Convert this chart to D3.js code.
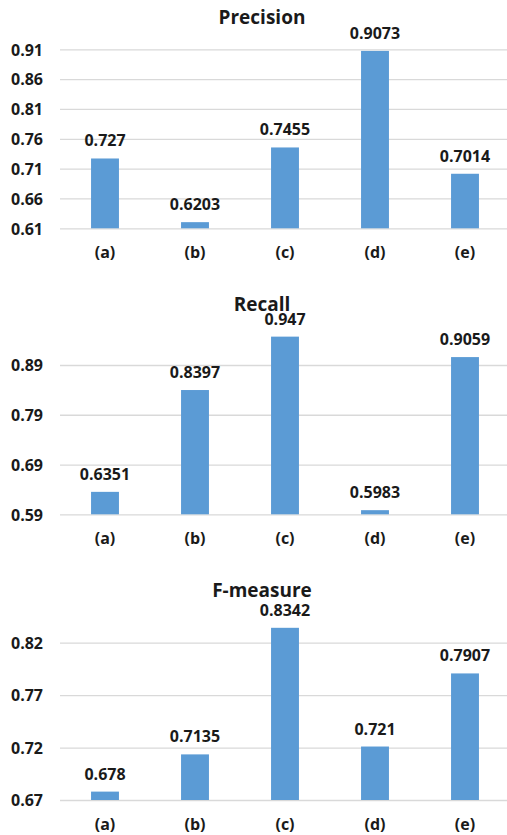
<!DOCTYPE html>
<html>
<head>
<meta charset="utf-8">
<script src="https://cdn.jsdelivr.net/npm/d3@7"></script>
<style>
  html, body { margin: 0; padding: 0; background: #fff; }
  svg { display: block; }
  text { font-family: "Open Sans", "Noto Sans", sans-serif; font-weight: 700; fill: #1a1a1a; }
</style>
</head>
<body>
<svg id="chart" width="507" height="835"></svg>
<script>
// Methods compared
const categories = ["(a)", "(b)", "(c)", "(d)", "(e)"];

// Scores per method
const precision = [0.727, 0.6203, 0.7455, 0.9073, 0.7014];
const recall    = [0.6351, 0.8397, 0.947, 0.5983, 0.9059];
const fmeasure  = [0.678, 0.7135, 0.8342, 0.721, 0.7907];

// Axis ticks for each panel
const precisionTicks = [0.61, 0.66, 0.71, 0.76, 0.81, 0.86, 0.91];
const recallTicks    = [0.59, 0.69, 0.79, 0.89];
const fmeasureTicks  = [0.67, 0.72, 0.77, 0.82];

const titles = ["Precision", "Recall", "F-measure"];

// Panel layout: vertical pixel span of the tick range and title baseline
const panels = [
  { title: titles[0], values: precision, ticks: precisionTicks, bottom: 228.3, top: 49.3,  titleY: 24 },
  { title: titles[1], values: recall,    ticks: recallTicks,    bottom: 514.3, top: 365,   titleY: 311 },
  { title: titles[2], values: fmeasure,  ticks: fmeasureTicks,  bottom: 800,   top: 642.7, titleY: 596.7 }
];

const svg = d3.select("#chart");
const plotLeft = 60, plotRight = 510;

const x = d3.scaleBand().domain(categories).range([plotLeft, plotRight]);
const barW = x.bandwidth() * 0.31;

panels.forEach(p => {
  const g = svg.append("g");
  const y = d3.scaleLinear()
    .domain([p.ticks[0], p.ticks[p.ticks.length - 1]])
    .range([p.bottom, p.top]);

  // Gridlines
  g.append("g")
    .attr("transform", `translate(${plotLeft},0)`)
    .call(d3.axisRight(y).tickValues(p.ticks).tickSize(plotRight - plotLeft).tickFormat(""))
    .call(s => s.select(".domain").remove())
    .call(s => s.selectAll(".tick line").attr("stroke", "#d9d9d9").attr("stroke-width", 1.3));

  // Y tick labels
  g.append("g")
    .attr("transform", `translate(43,0)`)
    .call(d3.axisLeft(y).tickValues(p.ticks).tickSize(0).tickPadding(0).tickFormat(d3.format(".2f")))
    .call(s => s.select(".domain").remove())
    .call(s => s.selectAll(".tick text")
      .attr("font-size", 16).attr("dy", "0.36em")
      .style("font-family", '"Open Sans", sans-serif').style("font-weight", 700)
      .attr("fill", "#1a1a1a"));

  // Bars
  g.selectAll("rect.bar")
    .data(p.values)
    .join("rect")
    .attr("class", "bar")
    .attr("x", (d, i) => x(categories[i]) + (x.bandwidth() - barW) / 2)
    .attr("width", barW)
    .attr("y", d => y(d))
    .attr("height", d => y(p.ticks[0]) - y(d))
    .attr("fill", "#5b9bd5");

  // Value labels
  g.selectAll("text.val")
    .data(p.values)
    .join("text")
    .attr("class", "val")
    .attr("x", (d, i) => x(categories[i]) + x.bandwidth() / 2)
    .attr("y", d => y(d) - 12)
    .attr("text-anchor", "middle")
    .attr("font-size", 16)
    .text(d => String(d));

  // Category labels
  g.selectAll("text.cat")
    .data(categories)
    .join("text")
    .attr("class", "cat")
    .attr("x", d => x(d) + x.bandwidth() / 2)
    .attr("y", p.bottom + 29.7)
    .attr("text-anchor", "middle")
    .attr("font-size", 16)
    .text(d => d);

  // Title
  g.append("text")
    .attr("x", 262)
    .attr("y", p.titleY)
    .attr("text-anchor", "middle")
    .attr("font-size", 19)
    .text(p.title);
});
</script>
</body>
</html>
